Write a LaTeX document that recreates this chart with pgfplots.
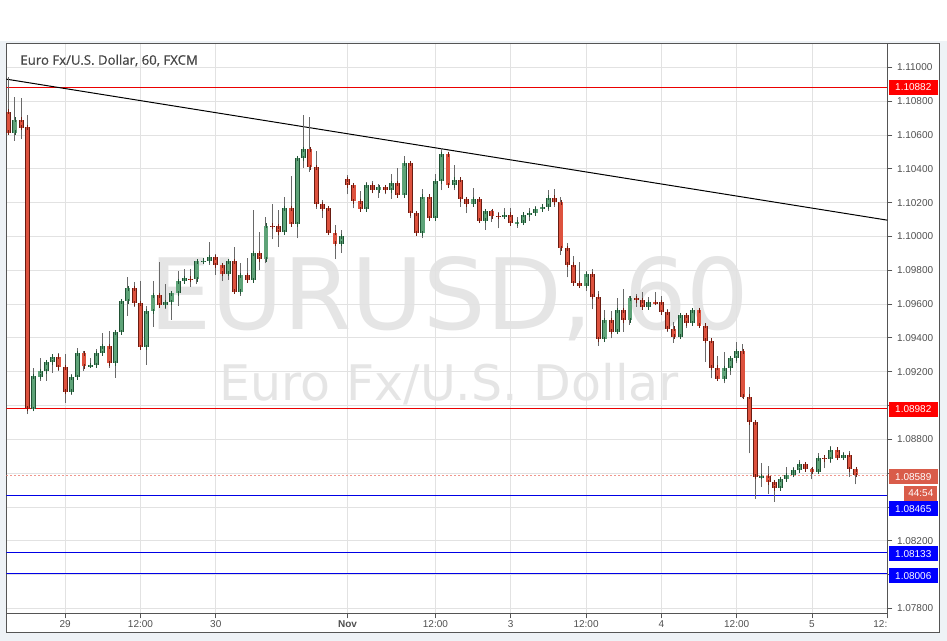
\documentclass[border=0pt]{standalone}
\usepackage{pgfplots}
\pgfplotsset{compat=1.18}
\usepackage{pgfplotstable}
\usepackage{fontspec}
\setmainfont{Liberation Sans}
\newfontfamily\wmfont{DejaVu Sans}
\newfontfamily\titlefont[FakeBold=0.5]{Open Sans}

\definecolor{bgout}{RGB}{238,242,246}
\definecolor{framec}{RGB}{85,85,85}
\definecolor{gridc}{RGB}{226,226,226}
\definecolor{wmc}{RGB}{229,229,229}
\definecolor{upfill}{RGB}{94,163,120}
\definecolor{upedge}{RGB}{32,82,52}
\definecolor{dnfill}{RGB}{221,82,62}
\definecolor{dnedge}{RGB}{105,28,18}
\definecolor{wickc}{RGB}{105,105,105}
\definecolor{lvred}{RGB}{235,0,0}
\definecolor{lvblue}{RGB}{0,0,230}
\definecolor{boxred}{RGB}{255,0,0}
\definecolor{boxblue}{RGB}{0,0,255}
\definecolor{lastc}{RGB}{217,92,74}
\definecolor{lastline}{RGB}{240,150,140}
\definecolor{tickc}{RGB}{80,80,80}

% EURUSD hourly candles, k = bar number
\pgfplotstableread{
k o h l c
0 1.10736 1.10941 1.10609 1.10613
1 1.10613 1.10823 1.10566 1.10689
2 1.10689 1.10817 1.10574 1.10643
3 1.10645 1.10718 1.08949 1.08983
4 1.08979 1.09223 1.08973 1.09174
5 1.09170 1.09281 1.09146 1.09204
6 1.09202 1.09265 1.09146 1.09255
7 1.09255 1.09303 1.09194 1.09287
8 1.09287 1.09309 1.09206 1.09226
9 1.09226 1.09304 1.09016 1.09081
10 1.09081 1.09186 1.09064 1.09167
11 1.09167 1.09340 1.09167 1.09309
12 1.09309 1.09322 1.09206 1.09232
13 1.09235 1.09281 1.09229 1.09237
14 1.09238 1.09334 1.09238 1.09309
15 1.09309 1.09430 1.09309 1.09350
16 1.09350 1.09440 1.09223 1.09249
17 1.09249 1.09446 1.09164 1.09433
18 1.09433 1.09624 1.09433 1.09616
19 1.09616 1.09760 1.09531 1.09693
20 1.09693 1.09732 1.09584 1.09604
21 1.09604 1.09736 1.09344 1.09344
22 1.09344 1.09588 1.09241 1.09557
23 1.09557 1.09736 1.09466 1.09652
24 1.09652 1.09849 1.09578 1.09592
25 1.09592 1.09718 1.09572 1.09610
26 1.09610 1.09663 1.09507 1.09663
27 1.09663 1.09795 1.09590 1.09734
28 1.09734 1.09807 1.09720 1.09752
29 1.09750 1.09805 1.09702 1.09746
30 1.09746 1.09853 1.09718 1.09853
31 1.09854 1.09870 1.09849 1.09856
32 1.09856 1.09965 1.09831 1.09876
33 1.09876 1.09896 1.09773 1.09829
34 1.09829 1.09829 1.09736 1.09779
35 1.09779 1.09860 1.09744 1.09853
36 1.09853 1.09937 1.09667 1.09673
37 1.09673 1.09841 1.09649 1.09770
38 1.09770 1.09872 1.09740 1.09740
39 1.09740 1.10156 1.09729 1.09900
40 1.09900 1.10026 1.09801 1.09865
41 1.09865 1.10113 1.09841 1.10062
42 1.10062 1.10192 1.09983 1.10060
43 1.10060 1.10156 1.09939 1.10024
44 1.10024 1.10231 1.10008 1.10166
45 1.10166 1.10357 1.10057 1.10073
46 1.10073 1.10462 1.09989 1.10462
47 1.10462 1.10718 1.10403 1.10515
48 1.10515 1.10704 1.10383 1.10409
49 1.10409 1.10505 1.10164 1.10190
50 1.10190 1.10215 1.10107 1.10164
51 1.10166 1.10166 1.10008 1.10022
52 1.10022 1.10067 1.09865 1.09957
53 1.09957 1.10038 1.09904 1.10002
54 1.10338 1.10363 1.10249 1.10302
55 1.10302 1.10310 1.10166 1.10208
56 1.10208 1.10270 1.10160 1.10160
57 1.10160 1.10324 1.10160 1.10302
58 1.10302 1.10328 1.10255 1.10273
59 1.10273 1.10310 1.10229 1.10290
60 1.10290 1.10304 1.10249 1.10273
61 1.10273 1.10369 1.10223 1.10314
62 1.10314 1.10403 1.10235 1.10243
63 1.10243 1.10476 1.10235 1.10432
64 1.10432 1.10442 1.10107 1.10137
65 1.10137 1.10137 1.10018 1.10018
66 1.10018 1.10279 1.09989 1.10235
67 1.10235 1.10235 1.10097 1.10107
68 1.10107 1.10369 1.10107 1.10326
69 1.10326 1.10521 1.10274 1.10487
70 1.10487 1.10487 1.10302 1.10302
71 1.10302 1.10422 1.10274 1.10334
72 1.10334 1.10334 1.10176 1.10219
73 1.10219 1.10219 1.10137 1.10190
74 1.10190 1.10285 1.10190 1.10219
75 1.10219 1.10219 1.10093 1.10093
76 1.10093 1.10156 1.10038 1.10148
77 1.10148 1.10156 1.10087 1.10119
78 1.10121 1.10146 1.10048 1.10117
79 1.10119 1.10166 1.10119 1.10127
80 1.10127 1.10166 1.10077 1.10077
81 1.10077 1.10117 1.10051 1.10085
82 1.10081 1.10137 1.10081 1.10127
83 1.10127 1.10166 1.10093 1.10138
84 1.10138 1.10180 1.10132 1.10160
85 1.10160 1.10180 1.10146 1.10174
86 1.10174 1.10274 1.10152 1.10229
87 1.10229 1.10279 1.10176 1.10202
88 1.10202 1.10235 1.09890 1.09930
89 1.09930 1.09959 1.09758 1.09831
90 1.09831 1.09884 1.09713 1.09723
91 1.09723 1.09847 1.09708 1.09708
92 1.09708 1.09795 1.09679 1.09776
93 1.09776 1.09807 1.09569 1.09643
94 1.09643 1.09677 1.09353 1.09391
95 1.09391 1.09565 1.09374 1.09504
96 1.09504 1.09559 1.09397 1.09436
97 1.09436 1.09636 1.09436 1.09563
98 1.09563 1.09689 1.09436 1.09504
99 1.09504 1.09647 1.09476 1.09634
100 1.09634 1.09658 1.09584 1.09622
101 1.09622 1.09673 1.09581 1.09581
102 1.09581 1.09643 1.09565 1.09610
103 1.09610 1.09669 1.09604 1.09607
104 1.09610 1.09647 1.09551 1.09551
105 1.09551 1.09569 1.09436 1.09454
106 1.09454 1.09495 1.09371 1.09407
107 1.09407 1.09541 1.09407 1.09533
108 1.09533 1.09533 1.09456 1.09486
109 1.09486 1.09563 1.09486 1.09563
110 1.09563 1.09563 1.09472 1.09472
111 1.09472 1.09472 1.09259 1.09383
112 1.09383 1.09383 1.09161 1.09223
113 1.09223 1.09293 1.09155 1.09158
114 1.09158 1.09316 1.09131 1.09220
115 1.09220 1.09293 1.09180 1.09279
116 1.09279 1.09377 1.09249 1.09320
117 1.09320 1.09364 1.09042 1.09052
118 1.09052 1.09111 1.08717 1.08900
119 1.08900 1.08900 1.08447 1.08579
120 1.08578 1.08661 1.08519 1.08581
121 1.08583 1.08644 1.08476 1.08545
122 1.08545 1.08545 1.08431 1.08510
123 1.08510 1.08579 1.08496 1.08563
124 1.08563 1.08634 1.08559 1.08589
125 1.08589 1.08638 1.08589 1.08616
126 1.08616 1.08677 1.08616 1.08652
127 1.08652 1.08652 1.08608 1.08622
128 1.08622 1.08628 1.08563 1.08608
129 1.08608 1.08721 1.08608 1.08687
130 1.08691 1.08707 1.08628 1.08683
131 1.08683 1.08760 1.08661 1.08737
132 1.08737 1.08747 1.08691 1.08691
133 1.08691 1.08726 1.08691 1.08707
134 1.08707 1.08732 1.08579 1.08622
135 1.08622 1.08622 1.08534 1.08589
}\candles

\pgfplotsset{
  wick/.style={draw=none, mark=none, forget plot,
    error bars/y dir=plus, error bars/y explicit,
    error bars/error bar style={draw=wickc, line width=0.75pt},
    error bars/error mark=none},
  body edge/.style={draw=none, mark=none, forget plot,
    error bars/y dir=both, error bars/y explicit,
    error bars/error bar style={draw=#1, line width=3.7pt},
    error bars/error mark=none},
  body fill/.style 2 args={draw=none, mark=none, forget plot,
    error bars/y dir=both, error bars/y explicit,
    error bars/error bar style={draw=#1, line width=2.5pt},
    error bars/error mark=-,
    error bars/error mark options={draw=#2, line width=0.6pt, mark size=1.85pt}},
}

\tikzset{lbox/.style={anchor=west, inner sep=0pt, minimum width=37.1pt,
  minimum height=11.25pt, text=white, font=\fontsize{7.5}{9}\selectfont}}

\begin{document}
\begin{tikzpicture}
\useasboundingbox (0pt,0pt) rectangle (710.25pt,480.75pt);
\fill[bgout] (0pt,0pt) rectangle (710.25pt,480.75pt);
\fill[white] (0pt,450.2pt) rectangle (710.25pt,480.75pt);
\filldraw[fill=white, draw=framec, line width=0.75pt] (4.725pt,6.225pt) rectangle (704.6pt,448.3pt);

% watermark
\node[anchor=base, text=wmc, font=\wmfont\fontsize{73.8}{80}\selectfont] at (337pt,233.25pt) {EURUSD, 60};
\node[anchor=base, text=wmc, font=\wmfont\fontsize{36.75}{40}\selectfont] at (337pt,180pt) {Euro Fx/U.S. Dollar};

\begin{axis}[
  at={(4.725pt,20.775pt)}, anchor=south west,
  scale only axis, width=660.75pt, height=427.5pt,
  xmin=-0.38, xmax=140, ymin=1.07771, ymax=1.11142,
  clip mode=individual,
  axis line style={draw=framec, line width=0.75pt},
  grid=major, major grid style={draw=gridc, line width=0.6pt},
  tick align=outside, major tick length=3.75pt,
  tick style={draw=framec, line width=0.6pt},
  xtick pos=bottom, ytick pos=right, yticklabel pos=right,
  xtick={9,21,33,54,68,80,92,104,116,128,140},
  xticklabels={29,12:00,30,\textbf{Nov},12:00,3,12:00,4,12:00,5,\llap{12:}},
  ytick={1.078,1.080,1.082,1.084,1.086,1.088,1.090,1.092,1.094,1.096,1.098,1.100,1.102,1.104,1.106,1.108,1.110},
  yticklabels={1.07800,,1.08200,,,1.08800,,1.09200,1.09400,1.09600,1.09800,1.10000,1.10200,1.10400,1.10600,1.10800,1.11000},
  yticklabel style={font=\fontsize{7.5}{9}\selectfont, text=tickc},
  xticklabel style={font=\fontsize{7.5}{9}\selectfont, text=tickc, yshift=1.5pt},
]
% level lines
\addplot[lvred, line width=0.75pt, forget plot] coordinates {(-0.38,1.10882) (140,1.10882)};
\addplot[lvred, line width=0.75pt, forget plot] coordinates {(-0.38,1.08982) (140,1.08982)};
\addplot[lvblue, line width=0.75pt, forget plot] coordinates {(-0.38,1.08465) (140,1.08465)};
\addplot[lvblue, line width=0.75pt, forget plot] coordinates {(-0.38,1.08133) (140,1.08133)};
\addplot[lvblue, line width=0.75pt, forget plot] coordinates {(-0.38,1.08006) (140,1.08006)};
\addplot[lastline, line width=0.6pt, dash pattern=on 1.5pt off 1.5pt, forget plot] coordinates {(-0.38,1.08589) (140,1.08589)};
% trend line
\addplot[black, line width=0.75pt, forget plot] coordinates {(-0.38,1.10930) (140,1.10096)};

% candles
\addplot[wick] table[x=k, y=l, y error plus expr=\thisrow{h}-\thisrow{l}] {\candles};
\addplot[body edge=upedge, restrict expr to domain={\thisrow{c}-\thisrow{o}}{0:1}]
  table[x=k, y expr=0.5*(\thisrow{o}+\thisrow{c}), y error expr=0.5*(\thisrow{c}-\thisrow{o})] {\candles};
\addplot[body fill={upfill}{upedge}, restrict expr to domain={\thisrow{c}-\thisrow{o}}{0:1}]
  table[x=k, y expr=0.5*(\thisrow{o}+\thisrow{c}), y error expr=0.5*(\thisrow{c}-\thisrow{o})] {\candles};
\addplot[body edge=dnedge, restrict expr to domain={\thisrow{o}-\thisrow{c}}{0.000001:1}]
  table[x=k, y expr=0.5*(\thisrow{o}+\thisrow{c}), y error expr=0.5*(\thisrow{o}-\thisrow{c})] {\candles};
\addplot[body fill={dnfill}{dnedge}, restrict expr to domain={\thisrow{o}-\thisrow{c}}{0.000001:1}]
  table[x=k, y expr=0.5*(\thisrow{o}+\thisrow{c}), y error expr=0.5*(\thisrow{o}-\thisrow{c})] {\candles};
\end{axis}

% title
\node[anchor=base west, text={rgb,255:red,70;green,70;blue,70}, font=\titlefont\fontsize{9.9}{12}\selectfont] at (11.8pt,432.2pt) {Euro Fx/U.S. Dollar, 60, FXCM};

% price boxes on the right scale
\node[lbox, fill=boxred] at (666.2pt,415.3pt) {1.10882};
\node[lbox, fill=boxred] at (666.2pt,173.6pt) {1.08982};
\node[lbox, fill=lastc] at (666.2pt,123.15pt) {1.08589};
\node[lbox, fill=lastc, anchor=east, minimum width=25pt] at (703.3pt,110.8pt) {44:54};
\node[lbox, fill=boxblue] at (666.2pt,99.15pt) {1.08465};
\node[lbox, fill=boxblue] at (666.2pt,65.4pt) {1.08133};
\node[lbox, fill=boxblue] at (666.2pt,48.75pt) {1.08006};
\end{tikzpicture}
\end{document}
